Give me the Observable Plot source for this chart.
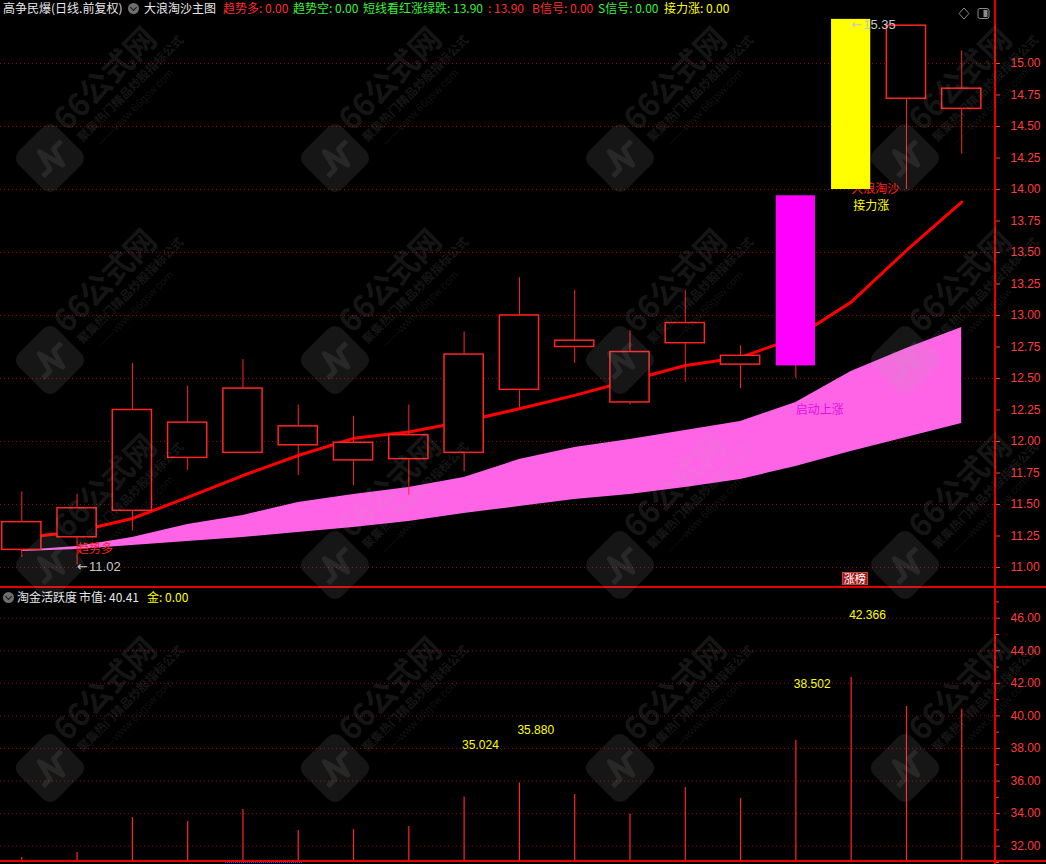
<!DOCTYPE html>
<html>
<head>
<meta charset="utf-8">
<script src="https://cdn.jsdelivr.net/npm/d3@7"></script>
<script src="https://cdn.jsdelivr.net/npm/@observablehq/plot@0.6"></script>
<style>
  html, body { margin: 0; padding: 0; background: #000; }
  #chart { position: relative; width: 1046px; height: 864px; background: #000; overflow: hidden;
           font-family: "Noto Sans CJK SC", "Liberation Sans", sans-serif; }
  .abs { position: absolute; }
  .t { position: absolute; font-size: 12px; line-height: 16px; white-space: nowrap; }
  .ico { position: absolute; width: 11px; height: 11px; border-radius: 50%; background: #6e6e6e; }
  .ico::after { content: ""; position: absolute; left: 3px; top: 1.5px; width: 4px; height: 4px;
                border-right: 1.5px solid #161616; border-bottom: 1.5px solid #161616; transform: rotate(45deg); }
  .hl { position: absolute; left: 0; width: 1046px; height: 2px; background: #e00000; }
  .vl { position: absolute; top: 0; width: 2px; height: 864px; background: #e00000; }
  .tag { position: absolute; width: 26px; height: 13px; background: #a51c1c; border: 1px solid #c84040; box-sizing: border-box;
         color: #fff; font-size: 11px; line-height: 11px; text-align: center; }
  #wm { position: absolute; left: 0; top: 0; pointer-events: none; }
</style>
</head>
<body>
<div id="chart">
  <div id="upper" class="abs" style="left:0;top:18px"></div>
  <div id="lower" class="abs" style="left:0;top:587px"></div>
  <div class="hl" style="top:586px"></div>
  <div class="hl" style="top:860px"></div>
  <div class="vl" style="left:994px"></div>
  <div class="abs" style="left:225px;top:862px;width:77px;height:0;border-top:1px dotted #3050ff"></div>
</div>
<script>
// ---------- data ----------
const days = d3.range(18); // trading-day index
const open  = [11.14, 11.24, 11.45, 11.87, 11.91, 11.97, 11.85, 11.86, 11.91, 12.41, 12.75, 12.31, 12.78, 12.61, 12.60, 14.00, 14.72, 14.64];
const close = [11.36, 11.47, 12.25, 12.15, 12.42, 12.12, 11.99, 12.05, 12.69, 13.00, 12.80, 12.71, 12.94, 12.68, 13.95, 15.35, 15.30, 14.80];
const high  = [11.60, 11.58, 12.62, 12.44, 12.65, 12.29, 12.20, 12.29, 12.87, 13.30, 13.20, 12.88, 13.20, 12.76, 13.95, 15.35, 15.30, 15.10];
const low   = [11.08, 11.02, 11.29, 11.77, 11.91, 11.73, 11.65, 11.57, 11.76, 12.27, 12.62, 12.29, 12.47, 12.42, 12.50, 14.00, 14.00, 14.28];
const signal = ["", "趋势多", "", "", "", "", "", "", "", "", "", "", "", "", "启动上涨", "接力涨", "", ""];
const trendLine  = [11.235, 11.286, 11.389, 11.556, 11.730, 11.889, 12.025, 12.075, 12.159, 12.260, 12.366, 12.484, 12.603, 12.667, 12.825, 13.106, 13.516, 13.900];
const bandTop    = [11.135, 11.167, 11.238, 11.341, 11.413, 11.516, 11.579, 11.635, 11.714, 11.857, 11.952, 12.016, 12.087, 12.159, 12.310, 12.556, 12.738, 12.905];
const bandBottom = [11.127, 11.143, 11.175, 11.206, 11.238, 11.278, 11.317, 11.365, 11.429, 11.484, 11.540, 11.579, 11.635, 11.698, 11.802, 11.921, 12.032, 12.143];
const activity = [31.31, 31.61, 33.76, 33.52, 34.25, 32.96, 33.03, 33.21, 35.024, 35.880, 35.18, 33.96, 35.61, 34.93, 38.502, 42.366, 40.58, 40.41];
const peakDays = [8, 9, 14, 15];
const priceTicks = d3.range(11, 15.001, 0.25);
const priceGrid  = d3.range(11, 15.001, 0.5);
const actTicks   = d3.range(32, 46.001, 2);
const actMinor   = d3.range(31, 48, 2);

// ---------- styling / layout ----------
const W = 1046, axisX = 995, barStep = 55.29, firstCenter = 21.3;
const xDomain = [-firstCenter / barStep, (axisX - firstCenter) / barStep];
const halfBody = 19.6 / barStep;
const RED = "#ff2424", AXRED = "#ff3c3c", GRID = "#9a0000", PINK = "#ff64e6", MAG = "#ff00ff", YEL = "#ffff00", GRN = "#3cf03c", WHITE = "#e6e6e6", GRAY = "#c8c8c8";
const FONT = "'Noto Sans CJK SC', 'Liberation Sans', sans-serif";
const NUMFONT = "'Liberation Sans', Arial, sans-serif";

const rows = days.map(i => ({i, open: open[i], close: close[i], high: high[i], low: low[i],
  signal: signal[i], ma: trendLine[i], top: bandTop[i], bot: bandBottom[i], act: activity[i]}));
const hollow = rows.filter(d => d.signal !== "启动上涨" && d.signal !== "接力涨");
const launch = rows.filter(d => d.signal === "启动上涨");
const relay  = rows.filter(d => d.signal === "接力涨");
const trend  = rows.filter(d => d.signal === "趋势多");
const lowest = rows.reduce((a, b) => (b.low < a.low ? b : a));
const highest = rows.reduce((a, b) => (b.high > a.high ? b : a));

const upper = Plot.plot({
  width: W, height: 569, marginLeft: 0, marginRight: W - axisX, marginTop: 0, marginBottom: 0,
  style: {background: "transparent", overflow: "visible", fontFamily: FONT},
  x: {type: "linear", domain: xDomain, axis: null},
  y: {type: "linear", domain: [10.8413, 15.357], axis: null},
  marks: [
    Plot.ruleY(priceGrid, {stroke: GRID, strokeDasharray: "1,3", strokeWidth: 1}),
    Plot.area(rows, {x1: "i", y1: "bot", y2: "top", fill: PINK, curve: "linear"}),
    Plot.line(rows, {x: "i", y: "ma", stroke: "#ff0000", strokeWidth: 3}),
    Plot.text(relay, {x: "i", y: "open", text: () => "大浪淘沙", textAnchor: "start", fill: "#ff2020", fontSize: 12, fontFamily: FONT}),
    Plot.ruleX(rows, {x: "i", y1: "low", y2: "high", stroke: RED, strokeWidth: 1}),
    Plot.rect(hollow, {x1: d => d.i - halfBody, x2: d => d.i + halfBody, y1: "open", y2: "close", fill: "#000", stroke: RED, strokeWidth: 1.5}),
    Plot.rect(launch, {x1: d => d.i - halfBody, x2: d => d.i + halfBody, y1: "open", y2: "close", fill: MAG}),
    Plot.rect(relay,  {x1: d => d.i - halfBody, x2: d => d.i + halfBody, y1: "open", y2: "close", fill: YEL}),
    Plot.text(trend, {x: "i", y: "bot", text: "signal", textAnchor: "start", fill: "#ff2020", fontSize: 12, fontFamily: FONT}),
    Plot.text(launch, {x: "i", y: "low", dy: 32, text: "signal", textAnchor: "start", fill: "#e010e0", fontSize: 12, fontFamily: FONT}),
    Plot.text(relay, {x: "i", y: "open", dy: 17, dx: 2, text: "signal", textAnchor: "start", fill: YEL, fontSize: 12, fontFamily: FONT}),
    // low / high markers: arrow + value
    Plot.text([lowest], {x: "i", y: "low", dy: 2, text: () => "←", textAnchor: "start", fill: GRAY, fontSize: 13, fontFamily: "'DejaVu Sans', sans-serif"}),
    Plot.text([lowest], {x: "i", y: "low", dy: 2, dx: 12, text: d => d.low.toFixed(2), textAnchor: "start", fill: GRAY, fontSize: 13, fontFamily: NUMFONT}),
    Plot.text([highest], {x: "i", y: "high", dy: 5, text: () => "←", textAnchor: "start", fill: GRAY, fontSize: 13, fontFamily: "'DejaVu Sans', sans-serif"}),
    Plot.text([highest], {x: "i", y: "high", dy: 5, dx: 12, text: d => d.high.toFixed(2), textAnchor: "start", fill: GRAY, fontSize: 13, fontFamily: NUMFONT}),
    Plot.axisY({anchor: "right", ticks: priceTicks, tickSize: 4, tickPadding: 11, tickFormat: d3.format(".2f"),
                color: AXRED, fontSize: 12, fontFamily: NUMFONT, label: null})
  ]
});
document.getElementById("upper").appendChild(upper);

const lower = Plot.plot({
  width: W, height: 274, marginLeft: 0, marginRight: W - axisX, marginTop: 0, marginBottom: 0,
  style: {background: "transparent", overflow: "visible", fontFamily: FONT},
  x: {type: "linear", domain: xDomain, axis: null},
  y: {type: "linear", domain: [31.06, 47.885], axis: null},
  marks: [
    Plot.ruleY(actTicks, {stroke: GRID, strokeDasharray: "1,3", strokeWidth: 1}),
    Plot.ruleX(rows, {x: "i", y1: 31.06, y2: "act", stroke: RED, strokeWidth: 1.2}),
    Plot.text(rows.filter(d => peakDays.includes(d.i)), {x: "i", y: d => d.act * 1.09, text: d => d.act.toFixed(3),
      textAnchor: "start", dx: -2, fill: YEL, fontSize: 12, fontFamily: NUMFONT}),
    Plot.axisY({anchor: "right", ticks: actTicks, tickSize: 4, tickPadding: 11, tickFormat: d3.format(".2f"),
                color: AXRED, fontSize: 12, fontFamily: NUMFONT, label: null}),
    Plot.axisY({anchor: "right", ticks: actMinor, tickSize: 3, tickFormat: () => "", color: AXRED, label: null})
  ]
});
document.getElementById("lower").appendChild(lower);

const chart = document.getElementById("chart");

// 涨榜 tag at the bottom of the price panel, under the relay-rise day
relay.forEach(d => {
  const tag = document.createElement("div");
  tag.className = "tag";
  tag.textContent = "涨榜";
  tag.style.left = (upper.scale("x").apply(d.i) - 9) + "px";
  tag.style.top = (18 + 569 - 15) + "px";
  chart.appendChild(tag);
});

// ---------- header rows (text) ----------
const last = trendLine[trendLine.length - 1].toFixed(2);
const hdr1 = [
  {x: 3,   c: WHITE, s: "高争民爆(日线.前复权)"},
  {x: 144, c: WHITE, s: "大浪淘沙主图"},
  {x: 223, c: "#ff2a2a", s: "趋势多: 0.00"},
  {x: 293, c: GRN, s: "趋势空: 0.00"},
  {x: 363, c: GRN, s: "短线看红涨绿跌: " + last},
  {x: 488, c: "#ff2a2a", s: ": " + last},
  {x: 532, c: "#ff2a2a", s: "B信号: 0.00"},
  {x: 598, c: GRN, s: "S信号: 0.00"},
  {x: 664, c: YEL, s: "接力涨: 0.00"}
];
const hdr2 = [
  {x: 17,  c: WHITE, s: "淘金活跃度"},
  {x: 79,  c: WHITE, s: "市值: " + activity[activity.length - 1].toFixed(2)},
  {x: 147, c: YEL, s: "金: 0.00"}
];
function addRow(items, top) {
  items.forEach(it => {
    const d = document.createElement("div");
    d.className = "t"; d.style.left = it.x + "px"; d.style.top = top + "px"; d.style.color = it.c;
    d.textContent = it.s; chart.appendChild(d);
  });
}
addRow(hdr1, 0);
addRow(hdr2, 589);
[[128, 3], [3, 592]].forEach(([x, y]) => {
  const i = document.createElement("div"); i.className = "ico"; i.style.left = x + "px"; i.style.top = y + "px"; chart.appendChild(i);
});
// window icons at top right
const icons = document.createElement("div");
icons.className = "abs"; icons.style.left = "958px"; icons.style.top = "2px";
icons.innerHTML = '<svg width="34" height="14"><path d="M6 1 L11 6.5 L6 12 L1 6.5 Z" fill="none" stroke="#8a8a8a"/>' +
  '<rect x="20" y="1.5" width="11" height="10" rx="2" fill="none" stroke="#8a8a8a"/><rect x="25.5" y="3" width="4" height="7" fill="#8a8a8a"/></svg>';
chart.appendChild(icons);

// ---------- faint site watermark overlay (as in the screenshot) ----------
const wmCols = [50, 335, 620, 905], wmRows = [158, 360, 565, 768];
const ns = "http://www.w3.org/2000/svg";
const wm = document.createElementNS(ns, "svg");
wm.setAttribute("id", "wm"); wm.setAttribute("width", W); wm.setAttribute("height", 864);
let wmHtml = "";
wmRows.forEach(cy => wmCols.forEach(cx => {
  wmHtml += `<g transform="translate(${cx},${cy}) rotate(-45)">
    <rect x="-27" y="-27" width="54" height="54" rx="10" fill="rgba(170,170,170,0.13)"/>
    <polyline points="-18,8 -8,8 -3,-12 4,14 9,-4 20,-4" fill="none" stroke="rgba(170,170,170,0.12)" stroke-width="5" stroke-linejoin="round"/>
    <text x="30" y="-6" font-size="31" font-weight="bold" font-family="'Noto Sans CJK SC', sans-serif" fill="rgba(170,170,170,0.15)">66公式网</text>
    <text x="34" y="12" font-size="12" font-weight="bold" font-family="'Noto Sans CJK SC', sans-serif" fill="rgba(170,170,170,0.14)">聚集热门精品炒股指标公式</text>
    <text x="44" y="28" font-size="11" font-family="'Liberation Sans', sans-serif" fill="rgba(170,170,170,0.12)">——www.66gsw.com</text>
  </g>`;
}));
wm.innerHTML = wmHtml;
chart.appendChild(wm);
</script>
</body>
</html>
